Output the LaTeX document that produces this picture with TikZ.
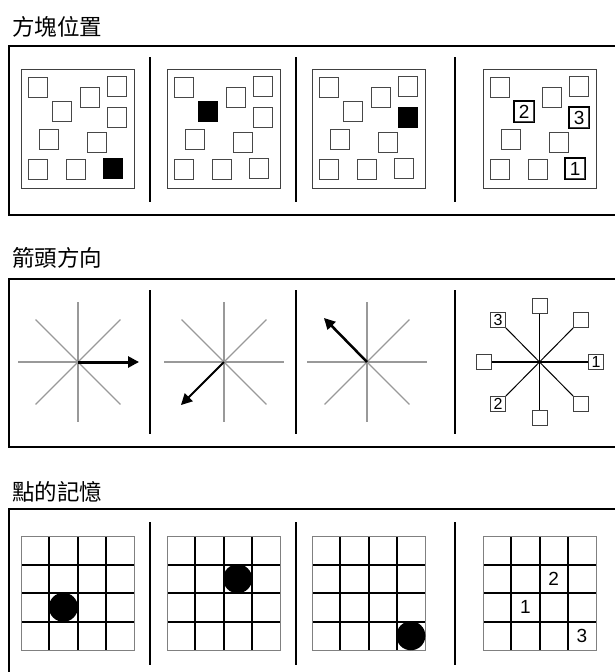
\documentclass[tikz,border=0pt]{standalone}
\usepackage{fontspec}
\setmainfont{Liberation Sans}
\newfontfamily\cjk{Noto Sans CJK TC}
\usetikzlibrary{arrows.meta}
\begin{document}
\begin{tikzpicture}[x=1pt,y=-1pt,
  title/.style={anchor=base west, inner sep=0pt, font=\cjk\fontsize{22.5}{26}\selectfont},
  panel/.style={draw=black, line width=2pt},
  divider/.style={draw=black, line width=2pt},
  frame/.style={draw=black!75, line width=1pt, minimum width=113pt, minimum height=119pt, inner sep=0pt, anchor=north west},
  blk/.style={draw=black!72, line width=1.4pt, minimum width=19pt, minimum height=20pt, inner sep=0pt, anchor=north west, font=\fontsize{19}{19}\selectfont},
  rayg/.style={draw=black!40, line width=1.2pt},
  arr/.style={draw=black, -{Triangle[length=11pt,width=11pt]}},
  sq/.style={draw=black!75, line width=1pt, minimum size=15pt, inner sep=0pt, fill=white, font=\fontsize{16}{16}\selectfont},
  ray/.style={draw=black, line width=1pt},
  gridline/.style={draw=black, line width=2pt},
  gridframe/.style={draw=black!50, line width=1pt},
  num/.style={inner sep=0pt, font=\fontsize{19}{19}\selectfont}
]
\useasboundingbox (0,0) rectangle (615,672);
\clip (0,0) rectangle (615,672);

% ---------- Panel 1 ----------
\node[title] (t1) at (12,35) {方塊位置};
\draw[panel] (640,46) -- (9,46) -- (9,215) -- (640,215);
\foreach \x in {150,296,455} \draw[divider] (\x,57) -- (\x,202);
\foreach \fx [count=\k] in {21,167,312,483} {
  \node[frame] (f\k) at (\fx,69) {};
  \foreach \dx/\dy [count=\j] in {7/8,31/32,59/18,86/7,86/38,18/60,66/63,7/90,45/90,82/89} {
    \node[blk] (b\k-\j) at (\fx+\dx,69+\dy) {};
  }
}
\fill[black] (b1-10.north west) rectangle (b1-10.south east);
\fill[black] (b2-2.north west) rectangle (b2-2.south east);
\fill[black] (b3-5.north west) rectangle (b3-5.south east);
\foreach \j/\n in {2/2,5/3,10/1} {
  \draw[black, line width=1.2pt] (b4-\j.north west) rectangle (b4-\j.south east);
  \node[num] (n4-\j) at (b4-\j) {\n};
}

% ---------- Panel 2 ----------
\node[title] (t2) at (12,266) {箭頭方向};
\draw[panel] (640,279) -- (9,279) -- (9,447) -- (640,447);
\foreach \x in {150,296,455} \draw[divider] (\x,290) -- (\x,434);
\foreach \cx [count=\k] in {78,224,367} {
  \coordinate (c\k) at (\cx,362);
  \foreach \a in {0,45,...,315} \draw[rayg] (c\k) -- ++(\a:60);
}
\coordinate (tip1) at (139,362);
\coordinate (tip2) at (181,405);
\coordinate (tip3) at (324,318);
\draw[arr, line width=3pt] (c1) -- (tip1);
\draw[arr, line width=2pt] (c2) -- (tip2);
\draw[arr, line width=2.5pt] (c3) -- (tip3);

\coordinate (c4) at (539.5,362);
\node[sq] (d1) at (596,362) {1};
\node[sq] (d2) at (581,320) {};
\node[sq] (d3) at (539.5,306) {};
\node[sq] (d4) at (498,320) {3};
\node[sq] (d5) at (483.5,362) {};
\node[sq] (d6) at (498,404) {2};
\node[sq] (d7) at (539.5,418) {};
\node[sq] (d8) at (581,404) {};
\draw[ray, line width=2pt] (c4) -- (d1);
\draw[ray, line width=2pt] (c4) -- (d5);
\foreach \i in {2,3,4,6,7,8} \draw[ray] (c4) -- (d\i);

% ---------- Panel 3 ----------
\node[title] (t3) at (12,500) {點的記憶};
\draw[panel] (640,509) -- (9,509) -- (9,690);
\foreach \x in {150,296,455} \draw[divider] (\x,522) -- (\x,665);
\foreach \gx [count=\k] in {21,167,312,483} {
  \foreach \i in {1,2,3} {
    \draw[gridline] (\gx+\i*28.25,536) -- (\gx+\i*28.25,650);
    \draw[gridline] (\gx,536+\i*28.5) -- (\gx+113,536+\i*28.5);
  }
  \draw[gridframe] (\gx,536) rectangle (\gx+113,650);
}
\fill[black] (21+1.5*28.25,536+2.5*28.5) circle (14.5);
\fill[black] (167+2.5*28.25,536+1.5*28.5) circle (14.5);
\fill[black] (312+3.5*28.25,536+3.5*28.5) circle (14.5);
\node[num] (g1) at (483+1.5*28.25,536+2.5*28.5) {1};
\node[num] (g2) at (483+2.5*28.25,536+1.5*28.5) {2};
\node[num] (g3) at (483+3.5*28.25,536+3.5*28.5) {3};
\end{tikzpicture}
\end{document}
